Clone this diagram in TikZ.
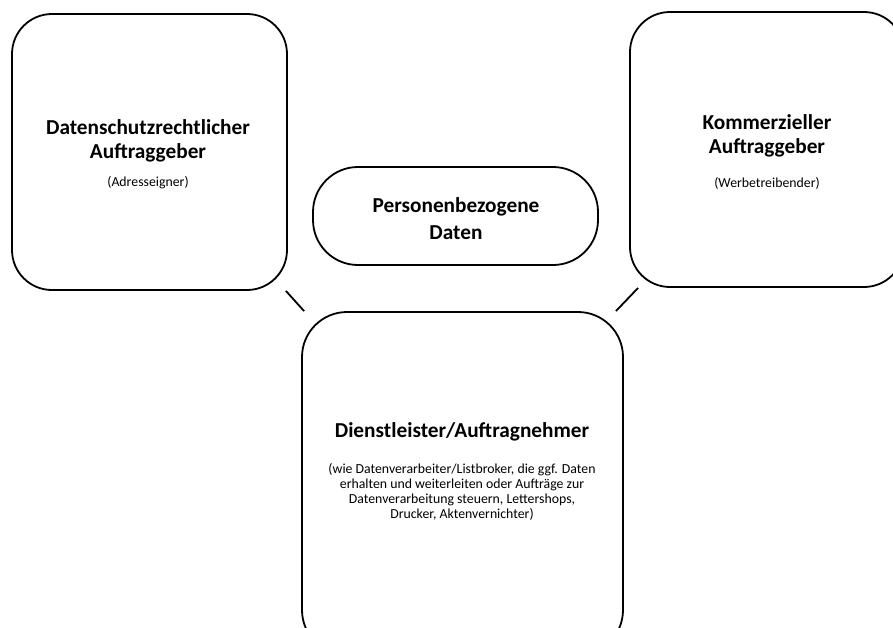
\documentclass[tikz,border=0pt]{standalone}
\usepackage{fontspec}
\setmainfont{Carlito}
\begin{document}
\begin{tikzpicture}[x=1pt,y=-1pt,
  box/.style={draw, line width=1.8pt, rounded corners=40pt, inner sep=0pt},
  title/.style={font=\bfseries\fontsize{21.3}{24}\selectfont, align=center, inner sep=0pt},
  sub/.style={font=\fontsize{13.8}{15}\selectfont, align=center, inner sep=0pt},
  link/.style={line width=1.8pt}]
\useasboundingbox (0,0) rectangle (893,627);
\clip (0,0) rectangle (893,627);
\node[box, minimum width=275pt, minimum height=276pt] (a) at (149.5,152) {};
\node[box, minimum width=274pt, minimum height=275pt] (b) at (767,149.5) {};
\node[box, rounded corners=45pt, minimum width=285pt, minimum height=98pt] (c) at (455.5,216) {};
\node[box, rounded corners=45pt, minimum width=321pt, minimum height=343pt] (d) at (462.5,483.5) {};
\node[title] (at1) at (148,141) {Datenschutzrechtlicher\\Auftraggeber};
\node[sub] (as1) at (148,183) {(Adresseigner)};
\node[title] (bt1) at (767,136) {Kommerzieller\\Auftraggeber};
\node[sub] (bs1) at (767,183) {(Werbetreibender)};
\node[title, font=\bfseries\fontsize{21.3}{27}\selectfont] (ct1) at (456,219) {Personenbezogene\\Daten};
\node[title] (dt1) at (462,432) {Dienstleister/Auftragnehmer};
\node[sub] (ds1) at (462,492) {(wie Datenverarbeiter/Listbroker, die ggf. Daten\\erhalten und weiterleiten oder Aufträge zur\\Datenverarbeitung steuern, Lettershops,\\Drucker, Aktenvernichter)};
\draw[link] ([xshift=-2pt]a.south east) -- ([xshift=3pt]d.north west);
\draw[link] ([xshift=9pt]b.south west) -- ([xshift=-8pt]d.north east);
\end{tikzpicture}
\end{document}
